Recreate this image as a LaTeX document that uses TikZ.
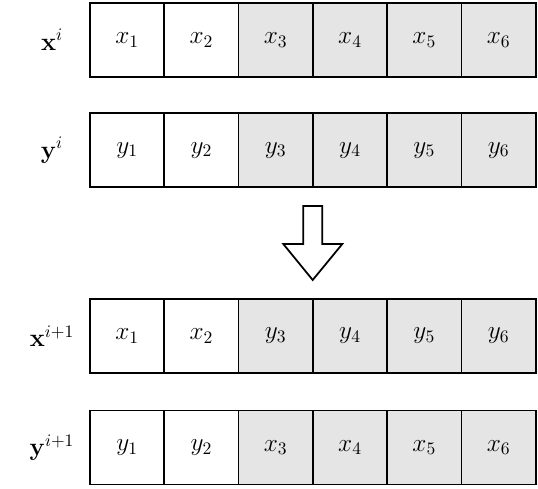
\documentclass[tikz,border=0pt]{standalone}
\usetikzlibrary{positioning}
\tikzset{
    cell/.style={draw, line width=1pt, minimum width=1.486cm, minimum height=1.48cm, inner sep=0pt, font=\Large},
    shaded/.style={cell, fill=gray!20},
    rowlabel/.style={font=\Large}
}
\begin{document}
\begin{tikzpicture}[x=0.02cm,y=-0.02cm]
    \useasboundingbox (0,0) rectangle (538,489);
    % Rows of cells
    \foreach \row/\y/\lab/\a/\b in {a/39.7/\mathbf{x}^i/x/x, b/150.2/\mathbf{y}^i/y/y, c/336/\mathbf{x}^{i+1}/x/y, d/447.5/\mathbf{y}^{i+1}/y/x} {
        \node[rowlabel] (\row-lab) at (52,\y) {$\lab$};
        \foreach \k in {1,2}
            \node[cell] (\row-\k) at (52.85+74.3*\k,\y) {$\a_\k$};
        \foreach \k in {3,...,6}
            \node[shaded] (\row-\k) at (52.85+74.3*\k,\y) {$\b_\k$};
    }
    % Swap arrow
    \draw[line width=1pt, fill=white] (303.3,206) -- (322.3,206) -- (322.3,244) -- (342.3,244)
        -- (312.7,280) -- (283.3,244) -- (303.3,244) -- cycle;
\end{tikzpicture}
\end{document}
